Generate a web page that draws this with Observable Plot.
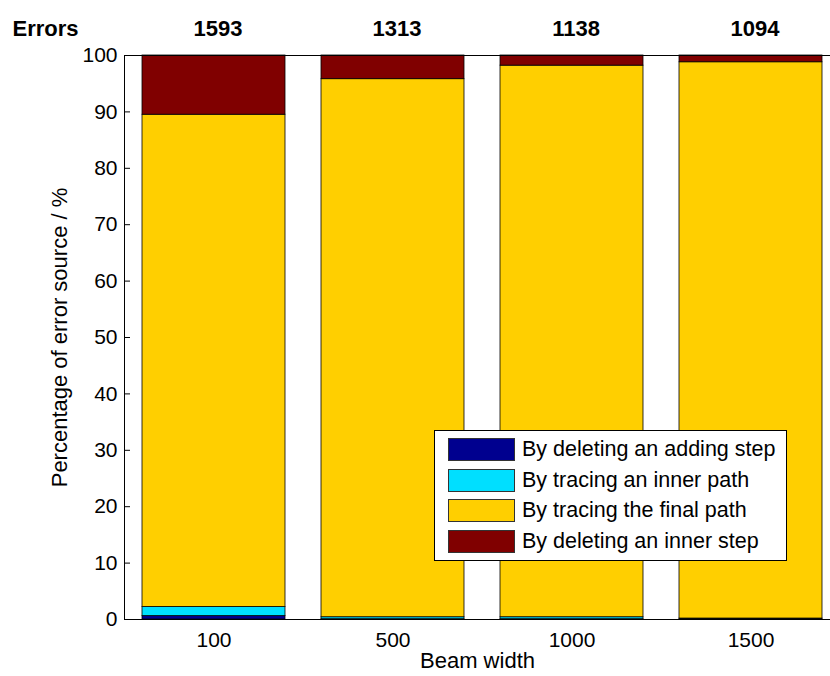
<!DOCTYPE html>
<html>
<head>
<meta charset="utf-8">
<script src="https://cdn.jsdelivr.net/npm/d3@7"></script>
<script src="https://cdn.jsdelivr.net/npm/@observablehq/plot@0.6"></script>
<style>
  html, body { margin: 0; padding: 0; background: #fff; overflow: hidden; }
  #chart { position: relative; width: 830px; height: 676px; font-family: "Liberation Sans", Arial, sans-serif; }
  #chart svg { display: block; }
  .legend { position: absolute; left: 434px; top: 430px; width: 353px; height: 131px;
            border: 1px solid #000; background: #fff; box-sizing: border-box; }
  .legend .row { position: absolute; left: 13px; height: 23px; display: flex; align-items: center; }
  .legend .sw { width: 67px; height: 23px; border: 1px solid #333; box-sizing: border-box; margin-right: 7px; }
  .legend .lab { font-size: 21.5px; color: #000; white-space: nowrap; }
</style>
</head>
<body>
<div id="chart"></div>
<script>
// Beam widths tested and the number of errors for each
const beamWidths = ["100", "500", "1000", "1500"];
const errorTotals = [1593, 1313, 1138, 1094];

// Error sources (stacked bottom to top) and their colours
const sources = [
  "By deleting an adding step",
  "By tracing an inner path",
  "By tracing the final path",
  "By deleting an inner step"
];
const sourceColors = ["#00008f", "#00dfff", "#ffcf00", "#800000"];

// Share of errors per source, in %, one value per beam width
const deletingAdding = [0.6, 0.05, 0.05, 0.02];
const tracingInner   = [1.6, 0.35, 0.35, 0.15];
const tracingFinal   = [87.3, 95.4, 97.8, 98.63];
const deletingInner  = [10.5, 4.2, 1.8, 1.2];

const yTicks = [0, 10, 20, 30, 40, 50, 60, 70, 80, 90, 100];

const series = [deletingAdding, tracingInner, tracingFinal, deletingInner];
const rows = beamWidths.flatMap((b, i) =>
  sources.map((s, j) => ({beam: b, source: s, value: series[j][i]}))
);
const totals = beamWidths.map((b, i) => ({beam: b, total: errorTotals[i]}));

const W = 830, H = 676;
const mL = 124, mT = 55, mB = 57, mR = 0;
const font = "Liberation Sans, Arial, sans-serif";

const chart = Plot.plot({
  width: W,
  height: H,
  marginLeft: mL,
  marginRight: mR,
  marginTop: mT,
  marginBottom: mB,
  style: {fontFamily: font, fontSize: "21px", color: "#000", background: "#fff"},
  x: {type: "band", domain: beamWidths, range: [mL, 840], paddingInner: 0.2, paddingOuter: 0.1},
  y: {domain: [0, 100]},
  color: {domain: sources, range: sourceColors},
  marks: [
    Plot.barY(rows, {x: "beam", y: "value", fill: "source", stroke: "#000", strokeWidth: 0.8}),
    Plot.ruleY([0, 100], {stroke: "#000", strokeWidth: 1}),
    Plot.frame({anchor: "left", stroke: "#000"}),
    Plot.tickY(yTicks, {y: d => d, insetRight: W - mL - mR - 6, stroke: "#000"}),
    Plot.axisY({ticks: yTicks, tickSize: 0, tickPadding: 7, fontSize: 21, label: null}),
    Plot.axisY({ticks: [], tickSize: 0, fontSize: 22,
      label: "Percentage of error source / %", labelAnchor: "center", labelArrow: "none", labelOffset: 73}),
    Plot.axisX({tickSize: 0, tickPadding: 13, fontSize: 21, label: null}),
    Plot.axisX({ticks: [], tickSize: 0, fontSize: 22,
      label: "Beam width", labelAnchor: "center", labelOffset: 48}),
    Plot.text(totals, {x: "beam", text: d => String(d.total), frameAnchor: "top", dy: -35, dx: 4,
      fontWeight: "bold", fontSize: 22}),
    Plot.text(["Errors"], {frameAnchor: "top-left", dx: -112, dy: -35, textAnchor: "start",
      fontWeight: "bold", fontSize: 22})
  ]
});

const host = document.getElementById("chart");
host.appendChild(chart);

// Legend box drawn over the plot area
const legend = document.createElement("div");
legend.className = "legend";
sources.forEach((s, i) => {
  const row = document.createElement("div");
  row.className = "row";
  row.style.top = (7 + i * 30.7) + "px";
  const sw = document.createElement("div");
  sw.className = "sw";
  sw.style.background = sourceColors[i];
  const lab = document.createElement("span");
  lab.className = "lab";
  lab.textContent = s;
  row.appendChild(sw);
  row.appendChild(lab);
  legend.appendChild(row);
});
host.appendChild(legend);
</script>
</body>
</html>
